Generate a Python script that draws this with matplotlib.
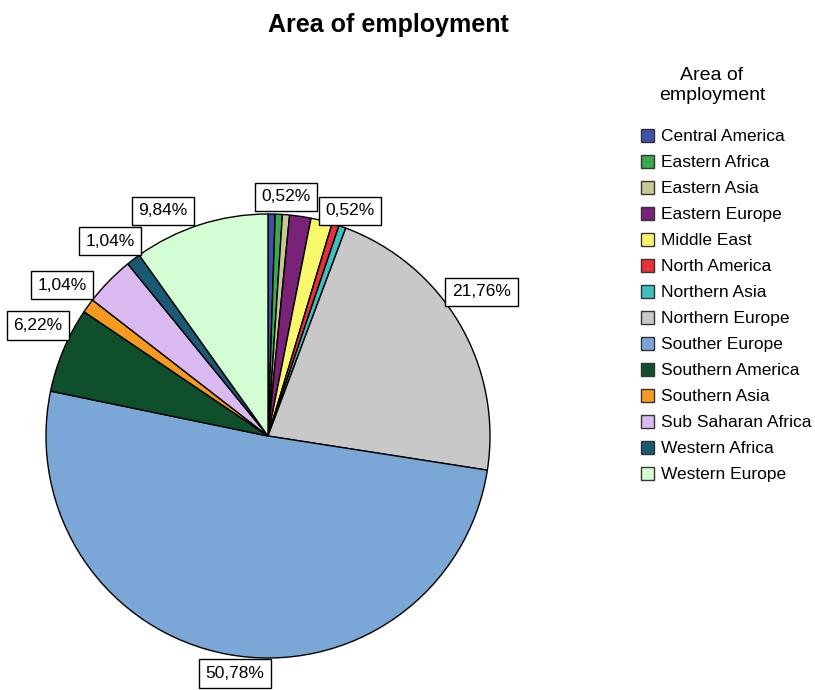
import numpy as np
import matplotlib
matplotlib.use('Agg')
from matplotlib import pyplot as plt
from matplotlib.patches import Patch

plt.rcParams['font.family'] = ['Liberation Sans', 'DejaVu Sans']

regions = ['Central America', 'Eastern Africa', 'Eastern Asia', 'Eastern Europe',
           'Middle East', 'North America', 'Northern Asia', 'Northern Europe',
           'Souther Europe', 'Southern America', 'Southern Asia',
           'Sub Saharan Africa', 'Western Africa', 'Western Europe']
counts = [1, 1, 1, 3, 3, 1, 1, 42, 98, 12, 2, 7, 2, 19]
colors = ['#3d52a8', '#3aa84c', '#c9c894', '#7a2178', '#f8f86c', '#e8303a',
          '#3dbfbf', '#c8c8c8', '#7ba7d6', '#0f4f2c', '#f59a1f', '#dab9f1',
          '#1a5a74', '#d3fdd3']

# percentage boxes: slice -> (angle shift in degrees, radius)
label_place = {
    'Central America': (-3.4, 1.08),
    'Northern Asia': (-0.4, 1.08),
    'Northern Europe': (3.7, 1.16),
    'Souther Europe': (2.4, 1.08),
    'Southern America': (-2.8, 1.15),
    'Southern Asia': (-0.3, 1.15),
    'Western Africa': (1.7, 1.13),
    'Western Europe': (7.3, 1.12),
}

fig = plt.figure(figsize=(8.15, 6.9), dpi=100)
ax = fig.add_axes([46 / 815, 32 / 690, 444 / 815, 444 / 690])

wedges, _ = ax.pie(counts, colors=colors, startangle=90, counterclock=False,
                   wedgeprops=dict(edgecolor='black', linewidth=1.0))
ax.set_xlim(-1, 1)
ax.set_ylim(-1, 1)
ax.set_aspect('equal')

total = sum(counts)
for w, name, n in zip(wedges, regions, counts):
    if name not in label_place:
        continue
    shift, r = label_place[name]
    mid = np.deg2rad((w.theta1 + w.theta2) / 2 + shift)
    pct = f'{100 * n / total:.2f}%'.replace('.', ',')
    ax.text(r * np.cos(mid), r * np.sin(mid), pct, ha='center', va='center',
            fontsize=12.5, clip_on=False,
            bbox=dict(boxstyle='square,pad=0.38', facecolor='white',
                      edgecolor='black', linewidth=1.0))

fig.text(388 / 815, 1 - 25 / 690, 'Area of employment', ha='center', va='center',
         fontsize=18, fontweight='bold')

# legend with its title drawn separately
fig.text(712 / 815, 1 - 67 / 690, 'Area of\nemployment', ha='center', va='top',
         fontsize=14, linespacing=1.25)
handles = [Patch(facecolor=c, edgecolor='#333333', linewidth=1.0) for c in colors]
fig.legend(handles, regions, loc='upper left',
           bbox_to_anchor=(641 / 815, 1 - 129 / 690), frameon=False,
           fontsize=12.5, handlelength=0.75, handleheight=0.75, handletextpad=0.4,
           labelspacing=0.61, borderaxespad=0, borderpad=0)

fig.savefig('out.png', dpi=100)
